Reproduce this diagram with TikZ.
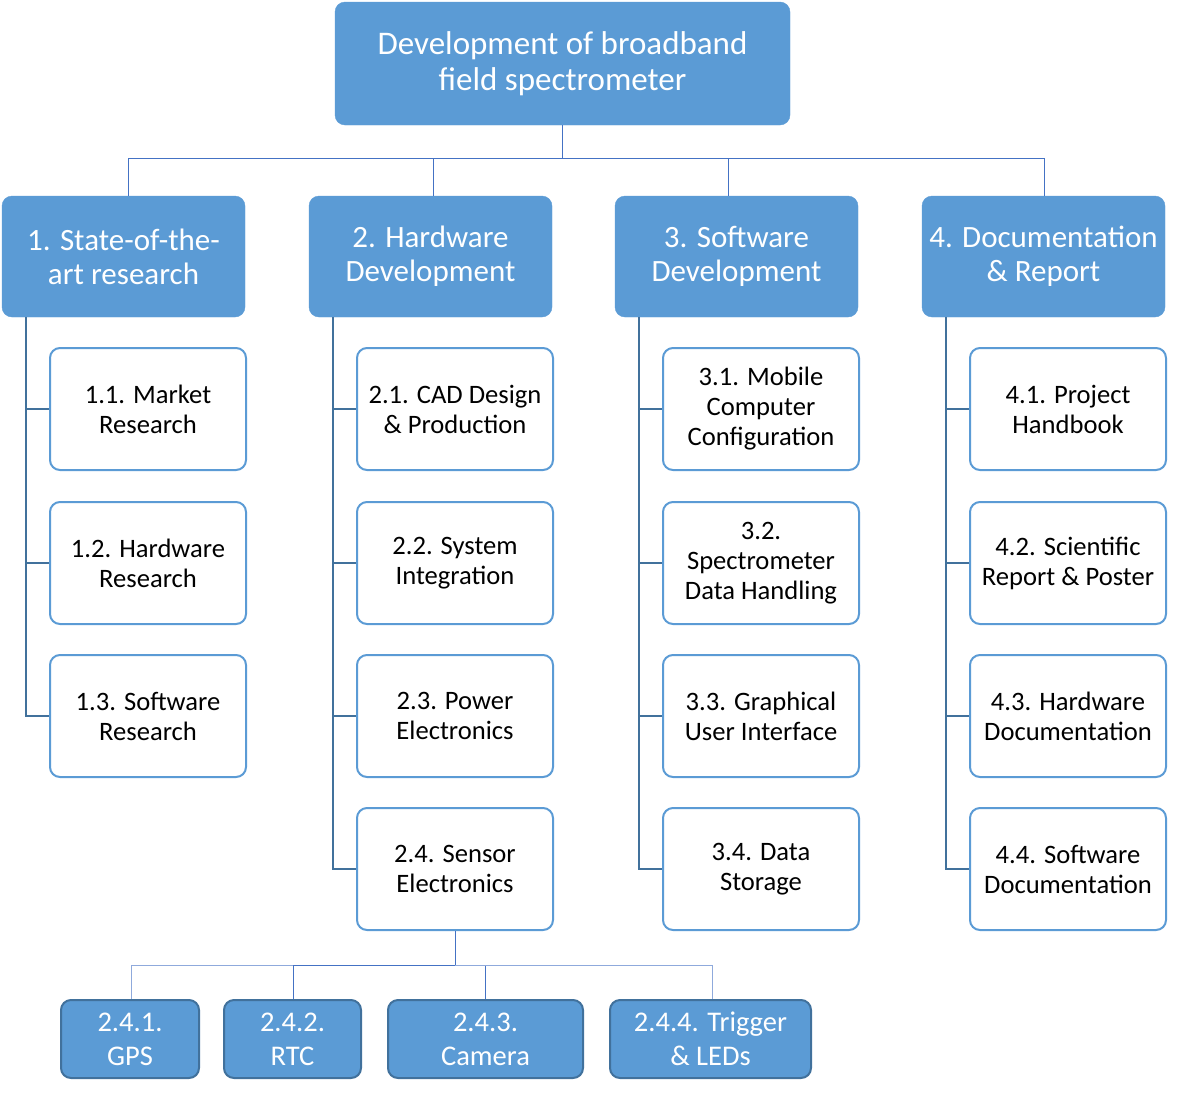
\documentclass[tikz,border=0pt]{standalone}
\usepackage{fontspec}
\setmainfont{Carlito}
\definecolor{boxblue}{HTML}{5B9BD5}
\definecolor{sideline}{HTML}{41719C}
\definecolor{topline}{HTML}{4472C4}
\definecolor{lightline}{HTML}{8FAADC}
\begin{document}
\begin{tikzpicture}[x=1pt,y=-1pt,
  rootbox/.style={fill=boxblue,draw=boxblue,rounded corners=10pt,inner sep=0pt,
    minimum width=455pt,minimum height=123pt,text=white,align=center,
    font=\fontsize{33}{36}\selectfont},
  mainbox/.style={fill=boxblue,draw=boxblue,rounded corners=10pt,inner sep=0pt,
    minimum width=243pt,minimum height=121pt,text=white,align=center,
    font=\fontsize{31}{34}\selectfont},
  childbox/.style={fill=white,draw=boxblue,line width=2pt,rounded corners=10pt,inner sep=0pt,
    minimum width=196pt,minimum height=122pt,text=black,align=center,
    font=\fontsize{26.6}{30}\selectfont},
  subbox/.style={fill=boxblue,draw=sideline,line width=2pt,rounded corners=10pt,inner sep=0pt,
    minimum height=78pt,text=white,align=center,
    font=\fontsize{28.5}{34}\selectfont},
  thinline/.style={draw=topline,line width=1pt},
  sidelink/.style={draw=sideline,line width=2pt},
]
\useasboundingbox (0,0) rectangle (1177,1092);

% root and level 1
\node[rootbox] (root) at (562.5,63.5) {Development of broadband\\field spectrometer};
\node[mainbox] (n1) at (123.5,256.5) {1. State-of-the-\\art research};
\node[mainbox] (n2) at (430.5,256.5) {2. Hardware\\Development};
\node[mainbox] (n3) at (736.5,256.5) {3. Software\\Development};
\node[mainbox] (n4) at (1043.5,256.5) {4. Documentation\\\& Report};

% children
\node[childbox] (c11) at (148,409) {1.1. Market\\Research};
\node[childbox] (c12) at (148,563) {1.2. Hardware\\Research};
\node[childbox] (c13) at (148,716) {1.3. Software\\Research};

\node[childbox] (c21) at (455,409) {2.1. CAD Design\\\& Production};
\node[childbox] (c22) at (455,563) {2.2. System\\Integration};
\node[childbox] (c23) at (455,716) {2.3. Power\\Electronics};
\node[childbox] (c24) at (455,869) {2.4. Sensor\\Electronics};

\node[childbox] (c31) at (761,409) {3.1. Mobile\\Computer\\Configuration};
\node[childbox] (c32) at (761,563) {3.2.\\Spectrometer\\Data Handling};
\node[childbox] (c33) at (761,716) {3.3. Graphical\\User Interface};
\node[childbox] (c34) at (761,869) {3.4. Data\\Storage};

\node[childbox] (c41) at (1068,409) {4.1. Project\\Handbook};
\node[childbox] (c42) at (1068,563) {4.2. Scientific\\Report \& Poster};
\node[childbox] (c43) at (1068,716) {4.3. Hardware\\Documentation};
\node[childbox] (c44) at (1068,869) {4.4. Software\\Documentation};

% sub-children of 2.4
\node[subbox,minimum width=138pt] (b1) at (130,1039) {2.4.1.\\GPS};
\node[subbox,minimum width=137pt] (b2) at (292.5,1039) {2.4.2.\\RTC};
\node[subbox,minimum width=195pt] (b3) at (485.5,1039) {2.4.3.\\Camera};
\node[subbox,minimum width=201pt] (b4) at (710.5,1039) {2.4.4. Trigger\\\& LEDs};

% top connectors
\draw[thinline] (root.south) -- ++(0,33) coordinate (hub);
\draw[thinline] (hub) -| ([xshift=4.5pt]n1.north);
\draw[thinline] (hub) -| ([xshift=2.5pt]n2.north);
\draw[thinline] (hub) -| ([xshift=-8.5pt]n3.north);
\draw[thinline] (hub) -| ([xshift=0.5pt]n4.north);

% side connectors
\foreach \c in {c11,c12,c13}
  \draw[sidelink] ([xshift=24pt]n1.south west) |- (\c.west);
\foreach \c in {c21,c22,c23,c24}
  \draw[sidelink] ([xshift=24pt]n2.south west) |- (\c.west);
\foreach \c in {c31,c32,c33,c34}
  \draw[sidelink] ([xshift=24pt]n3.south west) |- (\c.west);
\foreach \c in {c41,c42,c43,c44}
  \draw[sidelink] ([xshift=24pt]n4.south west) |- (\c.west);

% bottom connectors
\draw[thinline] (c24.south) -- ++(0,34) coordinate (hubb);
\draw[thinline,draw=lightline] (hubb) -| ([xshift=1pt]b1.north);
\draw[thinline] (hubb) -| ([xshift=0.5pt]b2.north);
\draw[thinline] (hubb) -| (b3.north);
\draw[thinline,draw=lightline] (hubb) -| ([xshift=1.5pt]b4.north);
\end{tikzpicture}
\end{document}
